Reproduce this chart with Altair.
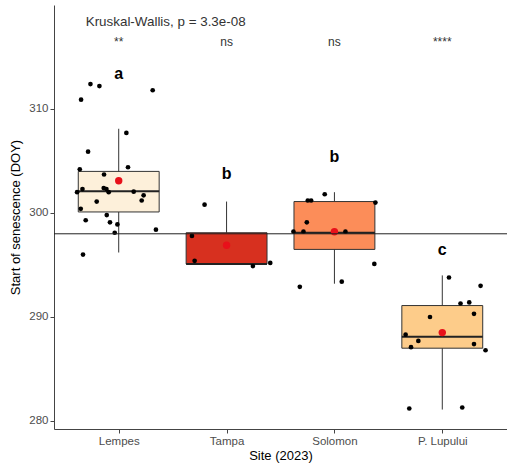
import altair as alt
import pandas as pd

FONT = "Liberation Sans"

sites = ["Lempes", "Tampa", "Solomon", "P. Lupului"]
fills = ["#fdf0da", "#d7301f", "#fc8d59", "#fdcc8a"]

# box statistics
q1 = [300.1, 295.1, 296.5, 287.0]
med = [302.1, 295.1, 298.1, 288.1]
q3 = [304.0, 298.1, 301.1, 291.1]
wlo = [296.2, 295.1, 293.2, 281.1]
whi = [308.1, 301.1, 302.0, 294.0]
means = [303.1, 296.9, 298.2, 288.5]

# individual observations and their horizontal jitter (fraction of category spacing)
lempes_v = [312.4, 312.2, 310.9, 311.8, 307.7, 305.9, 304.2, 304.4, 303.7, 302.3, 302.0, 302.4, 302.3,
            302.0, 302.05, 301.7, 301.2, 301.1, 300.4, 299.8, 299.3, 299.1, 298.9, 298.1, 298.4, 296.0]
lempes_j = [-0.262, -0.179, -0.349, 0.315, 0.071, -0.284, -0.361, 0.086, -0.136, -0.336, -0.386, -0.139, -0.114,
            -0.093, 0.139, 0.231, 0.213, -0.204, -0.352, -0.111, -0.306, -0.081, -0.012, -0.037, 0.345, -0.331]
tampa_v = [300.8, 297.8, 295.4, 294.9, 295.2]
tampa_j = [-0.204, -0.321, -0.296, 0.244, 0.405]
solomon_v = [301.8, 301.2, 301.2, 301.0, 299.1, 298.2, 298.2, 298.2, 295.1, 293.4, 292.9]
solomon_j = [-0.090, -0.247, -0.216, 0.380, -0.256, -0.380, -0.287, 0.102, 0.370, 0.068, -0.321]
lupului_v = [293.8, 293.0, 291.3, 291.4, 290.3, 290.0, 288.3, 287.7, 287.1, 287.4, 286.8, 281.2, 281.3]
lupului_j = [0.062, 0.355, 0.169, 0.250, 0.294, -0.114, -0.340, -0.222, -0.290, 0.294, 0.401, -0.306, 0.185]

ref_line = 298.0
sig = ["**", "ns", "ns", "****"]
sig_y = [316.4, 316.4, 316.4, 316.4]
letters = ["a", "b", "b", "c"]
letter_y = [313.4, 303.75, 305.4, 296.4]
kw_label = "Kruskal-Wallis, p = 3.3e-08"
kw_y = 318.4

BOX_HALF = 0.375
y_domain = [279.23, 320.0]
y_ticks = [280, 290, 300, 310]

idx = list(range(1, len(sites) + 1))
box_df = pd.DataFrame({"site": sites, "i": idx, "q1": q1, "med": med, "q3": q3, "lo": wlo, "hi": whi,
                       "mean": means, "sig": sig, "sig_y": sig_y, "letter": letters, "letter_y": letter_y})
pts = []
for k, (vs, js) in enumerate([(lempes_v, lempes_j), (tampa_v, tampa_j),
                              (solomon_v, solomon_j), (lupului_v, lupului_j)]):
    for v, j in zip(vs, js):
        pts.append({"site": sites[k], "i": k + 1, "value": v, "jitter": j})
pts_df = pd.DataFrame(pts)

label_expr = "[" + ",".join("'%s'" % s for s in sites) + "][datum.value - 1]"
xscale = alt.Scale(domain=[0.4, len(sites) + 0.6], nice=False, zero=False)
xaxis = alt.Axis(title="Site (2023)", values=idx, labelExpr=label_expr, labelAngle=0)
yscale = alt.Scale(domain=y_domain, nice=False, zero=False)
Yax = alt.Axis(title="Start of senescence (DOY)", values=y_ticks)

base = alt.Chart(box_df).transform_calculate(
    xl="datum.i - %f" % BOX_HALF, xr="datum.i + %f" % BOX_HALF)

whisk = base.mark_rule(color="#333333", strokeWidth=1).encode(
    x=alt.X("i:Q", scale=xscale, axis=xaxis),
    y=alt.Y("lo:Q", scale=yscale, axis=Yax), y2="hi:Q")

boxes = base.mark_rect(stroke="#333333", strokeWidth=1, opacity=1).encode(
    x=alt.X("xl:Q", scale=xscale), x2="xr:Q",
    y=alt.Y("q1:Q", scale=yscale), y2="q3:Q",
    fill=alt.Fill("site:N", scale=alt.Scale(domain=sites, range=fills), legend=None))

medians = base.mark_rule(color="#222222", strokeWidth=2).encode(
    x=alt.X("xl:Q", scale=xscale), x2="xr:Q", y=alt.Y("med:Q", scale=yscale))

points = alt.Chart(pts_df).transform_calculate(xj="datum.i + datum.jitter").mark_circle(
    color="black", opacity=1, size=22).encode(
    x=alt.X("xj:Q", scale=xscale), y=alt.Y("value:Q", scale=yscale))

mean_pts = base.mark_circle(color="#e8101a", opacity=1, size=55).encode(
    x=alt.X("i:Q", scale=xscale), y=alt.Y("mean:Q", scale=yscale))

hline = alt.Chart(pd.DataFrame({"y": [ref_line]})).mark_rule(color="#222222", strokeWidth=1).encode(
    y=alt.Y("y:Q", scale=yscale))

sig_txt = base.mark_text(font=FONT, fontSize=12, color="#333333", baseline="middle").encode(
    x=alt.X("i:Q", scale=xscale), y=alt.Y("sig_y:Q", scale=yscale), text="sig:N")

let_txt = base.mark_text(font=FONT, fontSize=16, fontWeight="bold", color="black", baseline="middle").encode(
    x=alt.X("i:Q", scale=xscale), y=alt.Y("letter_y:Q", scale=yscale), text="letter:N")

kw = alt.Chart(pd.DataFrame({"i": [1], "y": [kw_y], "t": [kw_label]})).mark_text(
    font=FONT, fontSize=13.4, color="#333333", align="left", baseline="middle", dx=-33).encode(
    x=alt.X("i:Q", scale=xscale), y=alt.Y("y:Q", scale=yscale), text="t:N")

chart = alt.layer(whisk, boxes, medians, points, mean_pts, hline, sig_txt, let_txt, kw).properties(
    width=453, height=424,
    autosize=alt.AutoSizeParams(type="none"),
    padding={"left": 54, "top": 5, "right": 0, "bottom": 36},
).configure_view(stroke=None).configure_axis(
    grid=False, domainColor="#444444", tickColor="#444444", tickSize=4,
    labelColor="#4d4d4d", labelFont=FONT, labelFontSize=11.5, labelPadding=2,
    titleFont=FONT, titleFontSize=13, titleColor="black", titleFontWeight="normal",
).configure_axisY(titlePadding=6).configure_axisX(titlePadding=3)

chart.save("out.html", embed_options={"renderer": "svg", "actions": False})
